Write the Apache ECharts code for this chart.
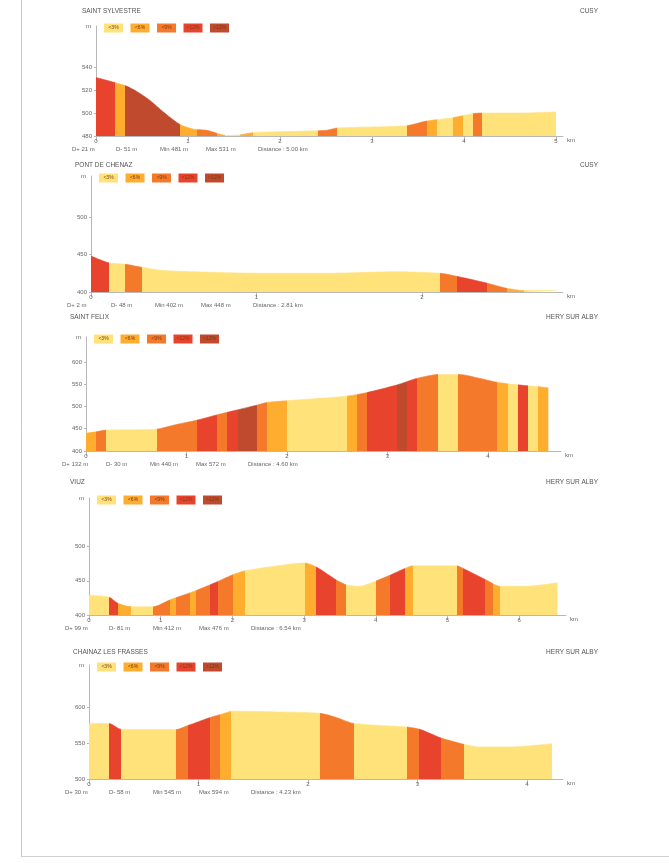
<!DOCTYPE html>
<html><head><meta charset="utf-8">
<script src="https://cdn.jsdelivr.net/npm/echarts@6/dist/echarts.min.js"></script>
<style>html,body{margin:0;padding:0;background:#fff}#c{width:669px;height:863px}</style>
</head><body><div id="c"></div>
<script>
// ---- legend classes ----
const classLabels = ['<3%', '<6%', '<9%', '<12%', '>12%'];
const classColors = ['#FFE27A', '#FFAD2E', '#F4792A', '#E8432C', '#BF4A2E'];

// ---- panel 1 ----
const p1Names = ['SAINT SYLVESTRE', 'CUSY'];
const p1Km   = [0, 0.315, 0.44, 0.587, 0.732, 0.913, 1.058, 1.203, 1.42, 1.57, 1.71, 2.14, 2.51, 2.62, 3.38, 3.59, 3.88, 4.17, 4.57, 5.0];
const p1Elev = [531, 524, 519, 511, 501, 490, 486, 485, 480.5, 481, 483, 484, 485, 487, 489, 493, 496, 500, 500, 501];
const p1SegStart = [0, 0.207, 0.315, 0.913, 1.094, 1.312, 1.402, 1.565, 1.71, 2.417, 2.616, 3.377, 3.594, 3.703, 3.884, 3.993, 4.101, 4.192];
const p1SegClass = [3, 1, 4, 1, 2, 1, 0, 1, 0, 2, 0, 2, 1, 0, 1, 0, 2, 0];
const p1YTicks = [480, 500, 520, 540];
const p1XTicks = [0, 1, 2, 3, 4, 5];

// ---- panel 2 ----
const p2Names = ['PONT DE CHENAZ', 'CUSY'];
const p2Km   = [0, 0.107, 0.207, 0.308, 0.42, 0.62, 1.02, 1.43, 1.83, 2.11, 2.21, 2.39, 2.51, 2.61, 2.81];
const p2Elev = [448, 439, 437, 433, 429, 427, 425, 425, 427, 425, 421, 412, 405, 402, 402];
const p2SegStart = [0, 0.107, 0.207, 0.308, 2.111, 2.211, 2.393, 2.514, 2.614];
const p2SegClass = [3, 0, 2, 0, 2, 3, 2, 1, 0];
const p2YTicks = [400, 450, 500];
const p2XTicks = [0, 1, 2];

// ---- panel 3 ----
const p3Names = ['SAINT FELIX', 'HERY SUR ALBY'];
const p3Km   = [0, 0.10, 0.20, 0.70, 0.87, 1.10, 1.30, 1.50, 1.70, 1.80, 2.00, 2.59, 2.79, 3.09, 3.29, 3.51, 3.71, 3.92, 4.12, 4.32, 4.52, 4.60];
const p3Elev = [440, 443, 447, 449, 458, 469, 481, 492, 503, 509, 513, 523, 531, 548, 563, 572, 572, 563, 553, 548, 544, 542];
const p3SegStart = [0, 0.10, 0.199, 0.703, 1.101, 1.30, 1.40, 1.516, 1.698, 1.798, 1.997, 2.594, 2.693, 2.793, 3.091, 3.191, 3.29, 3.506, 3.705, 4.086, 4.202, 4.302, 4.401, 4.501];
const p3SegClass = [1, 2, 0, 2, 3, 2, 3, 4, 2, 1, 0, 1, 2, 3, 4, 3, 2, 0, 2, 1, 0, 3, 0, 1];
const p3YTicks = [400, 450, 500, 550, 600];
const p3XTicks = [0, 1, 2, 3, 4];

// ---- panel 4 ----
const p4Names = ['VIUZ', 'HERY SUR ALBY'];
const p4Km   = [0, 0.279, 0.405, 0.591, 0.893, 1.126, 1.451, 1.730, 2.010, 2.195, 2.567, 3.009, 3.172, 3.451, 3.591, 3.777, 4.009, 4.195, 4.405, 4.521, 5.126, 5.219, 5.544, 5.730, 6.102, 6.535];
const p4Elev = [429, 426, 417, 412, 412, 422, 434, 446, 459, 465, 471, 476, 470, 451, 444, 442, 450, 458, 468, 472, 472, 468, 451, 442, 442, 447];
const p4SegStart = [0, 0.279, 0.405, 0.591, 0.893, 1.126, 1.219, 1.405, 1.498, 1.684, 1.800, 2.009, 2.172, 3.009, 3.172, 3.451, 3.591, 4.009, 4.195, 4.405, 4.521, 5.126, 5.219, 5.521, 5.637, 5.730];
const p4SegClass = [0, 3, 1, 0, 2, 1, 2, 1, 2, 3, 2, 1, 0, 1, 3, 2, 0, 2, 3, 1, 0, 2, 3, 2, 1, 0];
const p4YTicks = [400, 450, 500];
const p4XTicks = [0, 1, 2, 3, 4, 5, 6];

// ---- panel 5 ----
const p5Names = ['CHAINAZ LES FRASSES', 'HERY SUR ALBY'];
const p5Km   = [0, 0.183, 0.29, 0.489, 0.795, 0.902, 1.101, 1.193, 1.315, 1.713, 2.11, 2.263, 2.416, 2.905, 3.028, 3.211, 3.425, 3.547, 3.853, 4.229];
const p5Elev = [577, 577, 569, 568.5, 568.5, 574, 585, 589, 594, 593, 591, 585, 577, 572, 568.5, 557, 548, 544.5, 544.5, 549];
const p5SegStart = [0, 0.183, 0.29, 0.795, 0.902, 1.101, 1.193, 1.300, 2.11, 2.416, 2.905, 3.012, 3.211, 3.425];
const p5SegClass = [0, 3, 0, 2, 3, 2, 1, 0, 2, 0, 2, 3, 2, 0];
const p5YTicks = [500, 550, 600];
const p5XTicks = [0, 1, 2, 3, 4];

// ---- layout (pixels / axis ranges) ----
const layout = [
  {left: 96, top: 26,  width: 467, height: 110, yMin: 480, yMax: 576, xMax: 5.076, titleX: 82, titleY: 12},
  {left: 91, top: 176, width: 472, height: 116, yMin: 400, yMax: 555, xMax: 2.852, titleX: 75, titleY: 166},
  {left: 86, top: 337, width: 475, height: 114, yMin: 400, yMax: 656, xMax: 4.726, titleX: 70, titleY: 318},
  {left: 89, top: 498, width: 477, height: 117, yMin: 400, yMax: 571, xMax: 6.653, titleX: 70, titleY: 483},
  {left: 89, top: 665, width: 474, height: 114, yMin: 500, yMax: 658, xMax: 4.329, titleX: 73, titleY: 653}
];

const panels = [
  {names: p1Names, km: p1Km, elev: p1Elev, segStart: p1SegStart, segClass: p1SegClass, yTicks: p1YTicks, xTicks: p1XTicks},
  {names: p2Names, km: p2Km, elev: p2Elev, segStart: p2SegStart, segClass: p2SegClass, yTicks: p2YTicks, xTicks: p2XTicks},
  {names: p3Names, km: p3Km, elev: p3Elev, segStart: p3SegStart, segClass: p3SegClass, yTicks: p3YTicks, xTicks: p3XTicks},
  {names: p4Names, km: p4Km, elev: p4Elev, segStart: p4SegStart, segClass: p4SegClass, yTicks: p4YTicks, xTicks: p4XTicks},
  {names: p5Names, km: p5Km, elev: p5Elev, segStart: p5SegStart, segClass: p5SegClass, yTicks: p5YTicks, xTicks: p5XTicks}
];

const FONT = 'Liberation Sans, Arial, sans-serif';
const AXIS_COLOR = '#b8b8b8';
const TEXT_COLOR = '#666';

const grid = [], xAxis = [], yAxis = [], series = [], visualMap = [], graphic = [];

// page frame
graphic.push({type: 'line', shape: {x1: 21.5, y1: 0, x2: 21.5, y2: 857}, style: {stroke: '#c8c8c8', lineWidth: 1}, silent: true});
graphic.push({type: 'line', shape: {x1: 21.5, y1: 856.5, x2: 669, y2: 856.5}, style: {stroke: '#d0d0d0', lineWidth: 1}, silent: true});

panels.forEach((p, i) => {
  const L = layout[i];
  grid.push({left: L.left, top: L.top, width: L.width, height: L.height, containLabel: false, outerBoundsMode: 'none'});
  xAxis.push({
    type: 'value', gridIndex: i, min: 0, max: L.xMax,
    name: 'km', nameLocation: 'end', nameGap: 4,
    nameTextStyle: {fontSize: 6, color: TEXT_COLOR, fontFamily: FONT, verticalAlign: 'top', padding: [1, 0, 0, 0]},
    axisLine: {show: true, onZero: false, lineStyle: {color: AXIS_COLOR, width: 1}},
    axisTick: {show: true, customValues: p.xTicks, length: 5, lineStyle: {color: AXIS_COLOR}},
    axisLabel: {customValues: p.xTicks, fontSize: 6, color: TEXT_COLOR, fontFamily: FONT, margin: 2},
    splitLine: {show: false}
  });
  yAxis.push({
    type: 'value', gridIndex: i, min: L.yMin, max: L.yMax,
    name: 'm', nameLocation: 'end', nameGap: 0, nameMoveOverlap: false,
    nameTextStyle: {fontSize: 6, color: TEXT_COLOR, fontFamily: FONT, align: 'right', verticalAlign: 'middle', padding: [0, 5, 0, 0]},
    axisLine: {show: true, lineStyle: {color: AXIS_COLOR, width: 1}},
    axisTick: {show: true, customValues: p.yTicks, length: 2, lineStyle: {color: AXIS_COLOR}},
    axisLabel: {customValues: p.yTicks, fontSize: 6, color: TEXT_COLOR, fontFamily: FONT, margin: 4},
    splitLine: {show: false}
  });
  series.push({
    type: 'line', xAxisIndex: i, yAxisIndex: i,
    data: p.km.map((k, j) => [k, p.elev[j]]),
    showSymbol: false, smooth: 0.25, silent: true,
    lineStyle: {width: 0.6}, areaStyle: {opacity: 1}
  });
  const pieces = p.segStart.map((s, j) => {
    const piece = {gte: j === 0 ? -1 : s, color: classColors[p.segClass[j]]};
    if (j < p.segStart.length - 1) piece.lt = p.segStart[j + 1]; else piece.lte = 100;
    return piece;
  });
  visualMap.push({type: 'piecewise', show: false, dimension: 0, seriesIndex: i, pieces: pieces});

  // titles
  graphic.push({type: 'text', left: L.titleX, top: L.titleY - 4, silent: true,
    style: {text: p.names[0], fontSize: 6.5, fill: '#555', fontFamily: FONT}});
  graphic.push({type: 'text', right: 71, top: L.titleY - 4, silent: true,
    style: {text: p.names[1], fontSize: 6.5, fill: '#555', fontFamily: FONT, align: 'right'}});

  // legend boxes
  classLabels.forEach((lab, c) => {
    const bx = L.left + 8 + c * 26.5;
    const by = L.top + 2 - 4.5;
    graphic.push({type: 'rect', silent: true, shape: {x: bx, y: by, width: 19, height: 9}, style: {fill: classColors[c]}});
    graphic.push({type: 'text', silent: true, x: bx + 9.5, y: by + 4.5,
      style: {text: lab, fontSize: 5, fill: '#7a3a12', fontFamily: FONT, align: 'center', verticalAlign: 'middle'}});
  });

  // statistics line (derived from the profile arrays)
  let up = 0, down = 0;
  for (let j = 1; j < p.elev.length; j++) {
    const d = p.elev[j] - p.elev[j - 1];
    if (d > 0) up += d; else down -= d;
  }
  const stats = [
    'D+ ' + Math.round(up) + ' m',
    'D- ' + Math.round(down) + ' m',
    'Min ' + Math.round(Math.min(...p.elev)) + ' m',
    'Max ' + Math.round(Math.max(...p.elev)) + ' m',
    'Distance : ' + p.km[p.km.length - 1].toFixed(2) + ' km'
  ];
  const offs = [-24, 20, 64, 110, 162];
  stats.forEach((t, s) => {
    graphic.push({type: 'text', silent: true, x: L.left + offs[s], y: L.top + L.height + 13,
      style: {text: t, fontSize: 6, fill: TEXT_COLOR, fontFamily: FONT, verticalAlign: 'middle'}});
  });
});

const chart = echarts.init(document.getElementById('c'), null, {renderer: 'canvas'});
chart.setOption({
  animation: false,
  backgroundColor: '#fff',
  grid, xAxis, yAxis, series, visualMap, graphic
});
</script>
</body></html>
